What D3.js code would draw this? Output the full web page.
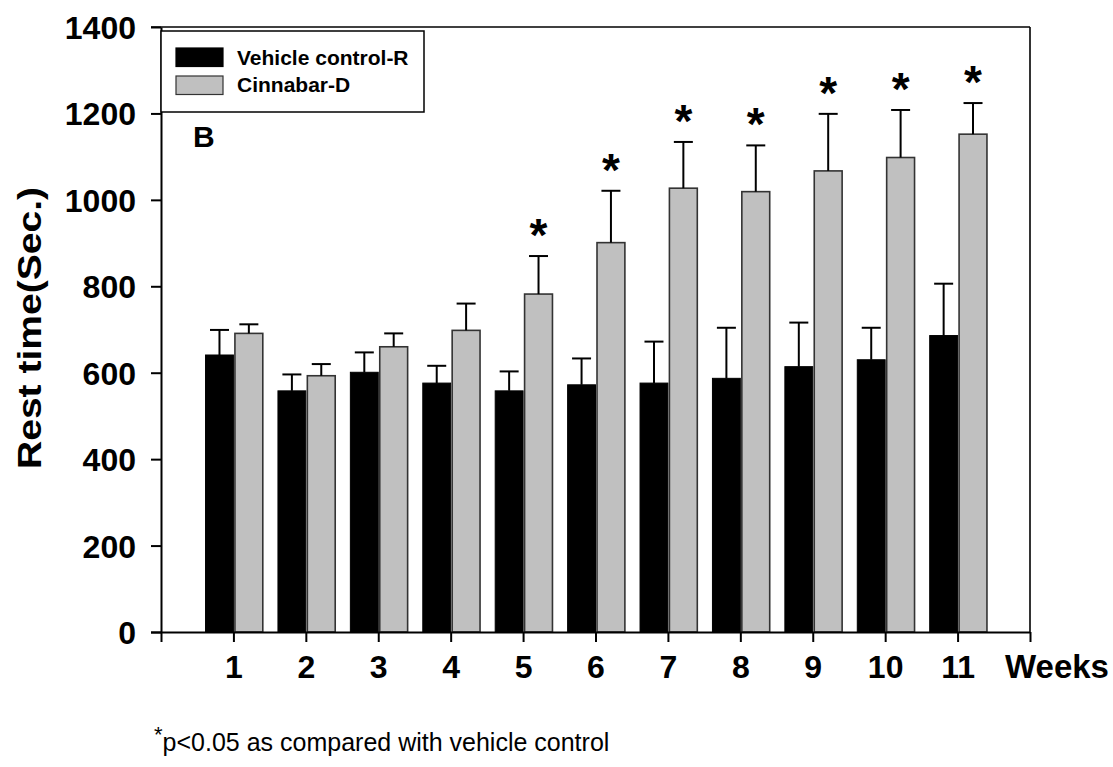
<!DOCTYPE html>
<html>
<head>
<meta charset="utf-8">
<script src="https://cdn.jsdelivr.net/npm/d3@7/dist/d3.min.js"></script>
<style>
  html, body { margin: 0; padding: 0; background: #fff; }
  svg { display: block; }
  text { font-family: Arial, "Liberation Sans", Helvetica, sans-serif; fill: #000; }
</style>
</head>
<body>
<svg id="chart" width="1113" height="767"></svg>
<script>
// Weekly rest time (seconds), mean and upper error (SD) per group
const weeks = [1, 2, 3, 4, 5, 6, 7, 8, 9, 10, 11];
const controlMean = [641, 558, 601, 576, 558, 572, 576, 587, 614, 630, 686];
const controlErr  = [58, 38, 46, 40, 45, 61, 96, 117, 102, 74, 120];
const cinnabarMean = [691, 593, 660, 698, 782, 901, 1027, 1019, 1067, 1098, 1152];
const cinnabarErr  = [21, 27, 31, 62, 88, 120, 107, 107, 132, 110, 72];
const significant = [5, 6, 7, 8, 9, 10, 11];
const yTicks = [0, 200, 400, 600, 800, 1000, 1200, 1400];
const seriesNames = ["Vehicle control-R", "Cinnabar-D"];

const svg = d3.select("#chart");
const plotL = 161, plotR = 1030, plotT = 27, plotB = 632;

const x = d3.scaleLinear().domain([0, 12]).range([plotL, plotR]);
const y = d3.scaleLinear().domain([0, 1400]).range([plotB, plotT]);
const barW = 0.385;

// Frame lines (top and right)
svg.append("line").attr("x1", plotL - 10).attr("x2", plotR).attr("y1", plotT).attr("y2", plotT)
  .attr("stroke", "#000").attr("stroke-width", 1.6);
svg.append("line").attr("x1", plotR).attr("x2", plotR).attr("y1", plotT).attr("y2", plotB)
  .attr("stroke", "#000").attr("stroke-width", 1.6);

// Bars
const g = svg.append("g");
weeks.forEach((w, i) => {
  // control bar (left of tick)
  g.append("rect")
    .attr("x", x(w - barW)).attr("width", x(w) - x(w - barW))
    .attr("y", y(controlMean[i])).attr("height", y(0) - y(controlMean[i]))
    .attr("fill", "#000").attr("stroke", "#000").attr("stroke-width", 1);
  // cinnabar bar (right of tick)
  g.append("rect")
    .attr("x", x(w) + 1.5).attr("width", x(w + barW) - x(w))
    .attr("y", y(cinnabarMean[i])).attr("height", y(0) - y(cinnabarMean[i]))
    .attr("fill", "#c0c0c0").attr("stroke", "#333").attr("stroke-width", 1.6);
});

// Error bars (upper only)
function errBar(cx, mean, err) {
  g.append("line").attr("x1", cx).attr("x2", cx)
    .attr("y1", y(mean)).attr("y2", y(mean + err))
    .attr("stroke", "#000").attr("stroke-width", 2);
  g.append("line").attr("x1", cx - 9.5).attr("x2", cx + 9.5)
    .attr("y1", y(mean + err)).attr("y2", y(mean + err))
    .attr("stroke", "#000").attr("stroke-width", 2);
}
weeks.forEach((w, i) => {
  errBar((x(w - barW) + x(w)) / 2, controlMean[i], controlErr[i]);
  errBar((x(w) + 1.5 + x(w + barW) + 1.5) / 2, cinnabarMean[i], cinnabarErr[i]);
});

// Significance markers
significant.forEach(w => {
  const i = weeks.indexOf(w);
  const cx = (x(w) + 1.5 + x(w + barW) + 1.5) / 2;
  svg.append("text")
    .attr("x", cx).attr("y", y(cinnabarMean[i] + cinnabarErr[i]) - 5)
    .attr("text-anchor", "middle")
    .attr("font-size", 46).attr("font-weight", "bold")
    .text("*");
});

// Y axis
const yAxis = svg.append("g").attr("transform", `translate(${plotL},0)`)
  .call(d3.axisLeft(y).tickValues(yTicks).tickSize(10).tickSizeOuter(0).tickPadding(15)
    .tickFormat(d3.format("d")));
yAxis.selectAll("path, line").attr("stroke", "#000").attr("stroke-width", 2);
yAxis.selectAll("text").attr("font-size", 32).attr("font-weight", "bold")
  .attr("font-family", "Arial, 'Liberation Sans', sans-serif").attr("fill", "#000")
  .attr("dy", "0.36em");

// X axis
const xAxis = svg.append("g").attr("transform", `translate(0,${plotB})`)
  .call(d3.axisBottom(x).tickValues(d3.range(0, 13)).tickSize(10).tickSizeOuter(0)
    .tickFormat(d => weeks.includes(d) ? d : ""));
xAxis.selectAll("path, line").attr("stroke", "#000").attr("stroke-width", 2);
xAxis.select("path.domain").attr("d", `M${plotL - 10},0.5H${plotR}`);
xAxis.selectAll("text").attr("font-size", 32).attr("font-weight", "bold")
  .attr("font-family", "Arial, 'Liberation Sans', sans-serif").attr("fill", "#000")
  .attr("y", 46).attr("dy", 0);

svg.append("text").attr("x", 1005).attr("y", 678)
  .attr("font-size", 33).attr("font-weight", "bold").text("Weeks");

// Y axis title
svg.append("text")
  .attr("transform", "translate(41,328) rotate(-90)")
  .attr("text-anchor", "middle")
  .attr("font-size", 34).attr("font-weight", "bold")
  .attr("textLength", 282).attr("lengthAdjust", "spacingAndGlyphs")
  .text("Rest time(Sec.)");

// Panel letter
svg.append("text").attr("x", 193).attr("y", 147)
  .attr("font-size", 30).attr("font-weight", "bold").text("B");

// Legend
const leg = svg.append("g");
leg.append("rect").attr("x", 161).attr("y", 31).attr("width", 263).attr("height", 81)
  .attr("fill", "#fff").attr("stroke", "#000").attr("stroke-width", 1.5);
const swatchFill = ["#000", "#c0c0c0"];
const swatchStroke = ["#000", "#333"];
seriesNames.forEach((name, i) => {
  leg.append("rect").attr("x", 176).attr("y", 48 + i * 28).attr("width", 47).attr("height", 18.5)
    .attr("fill", swatchFill[i]).attr("stroke", swatchStroke[i]).attr("stroke-width", 1.2);
  leg.append("text").attr("x", 237).attr("y", 65 + i * 27)
    .attr("font-size", 21).attr("font-weight", "bold").text(name);
});

// Footnote
const note = svg.append("text").attr("x", 154).attr("y", 751).attr("font-size", 25);
note.append("tspan").attr("font-size", 22).attr("dy", -9).text("*");
note.append("tspan").attr("dy", 9).text("p<0.05 as compared with vehicle control");
</script>
</body>
</html>
